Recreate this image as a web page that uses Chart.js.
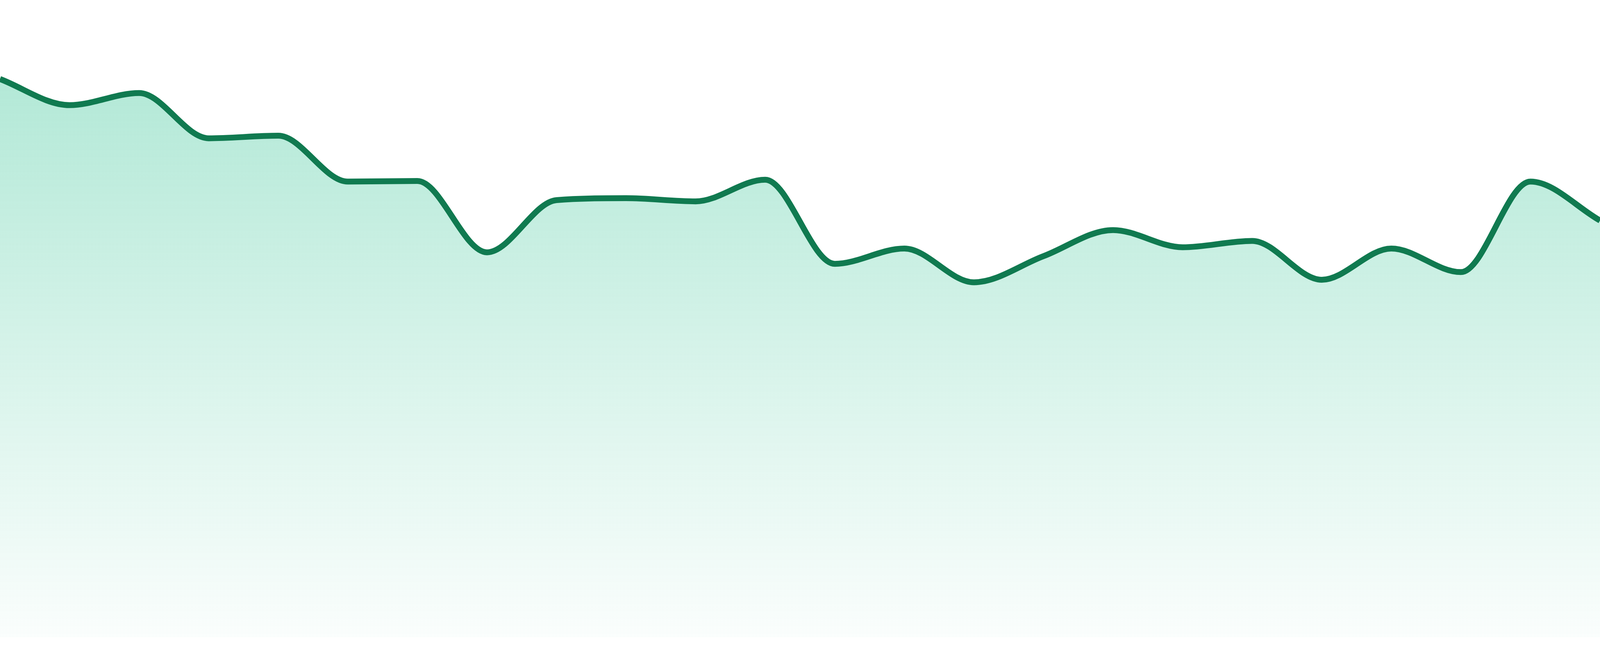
<!DOCTYPE html>
<html>
<head>
<meta charset="utf-8">
<script src="https://cdn.jsdelivr.net/npm/chart.js@4"></script>
<style>
  html, body { margin: 0; padding: 0; background: #fff; overflow: hidden; }
  #wrap { position: fixed; left: 0; top: 0; width: 100vw; height: 100vh; }
  #trendChart { display: block; }
</style>
</head>
<body>
<div id="wrap"><canvas id="trendChart"></canvas></div>
<script>
// values (no axes shown, scale 0..100)
const labels = ['1', '2', '3', '4', '5', '6', '7', '8', '9', '10', '11', '12',
                '13', '14', '15', '16', '17', '18', '19', '20', '21', '22', '23', '24'];
const values = [87.6, 83.5, 85.4, 78.3, 78.7, 71.5, 71.6, 60.4, 68.6, 68.9, 68.4, 71.8,
                58.6, 61.0, 55.7, 59.8, 63.9, 61.2, 62.2, 56.1, 61.0, 57.3, 71.5, 65.4];
const yMin = 0;
const yMax = 100;

const lineColor = '#107a50';

// the reference is 1680 tall; keep vertical sizes relative to the real viewport
const sy = window.innerHeight / 1680;

function areaFill(context) {
  const chart = context.chart;
  const area = chart.chartArea;
  if (!area) return 'rgba(16,185,129,0.2)';
  const g = chart.ctx.createLinearGradient(0, area.top, 0, area.bottom);
  g.addColorStop(0, 'rgba(16,185,129,0.36)');
  g.addColorStop(1, 'rgba(16,185,129,0.02)');
  return g;
}

const ctx = document.getElementById('trendChart').getContext('2d');
const chart = new Chart(ctx, {
  type: 'line',
  data: {
    labels: labels,
    datasets: [{
      data: values,
      borderColor: lineColor,
      borderWidth: 15 * sy,
      backgroundColor: areaFill,
      fill: 'origin',
      cubicInterpolationMode: 'monotone',
      pointRadius: 0,
      pointHoverRadius: 0
    }]
  },
  options: {
    responsive: true,
    maintainAspectRatio: false,
    animation: false,
    layout: { padding: { top: 0, right: 0, bottom: 48 * sy, left: 0 } },
    plugins: { legend: { display: false }, tooltip: { enabled: false } },
    scales: {
      x: { display: false, offset: false },
      y: { display: false, min: yMin, max: yMax }
    }
  }
});
</script>
</body>
</html>
